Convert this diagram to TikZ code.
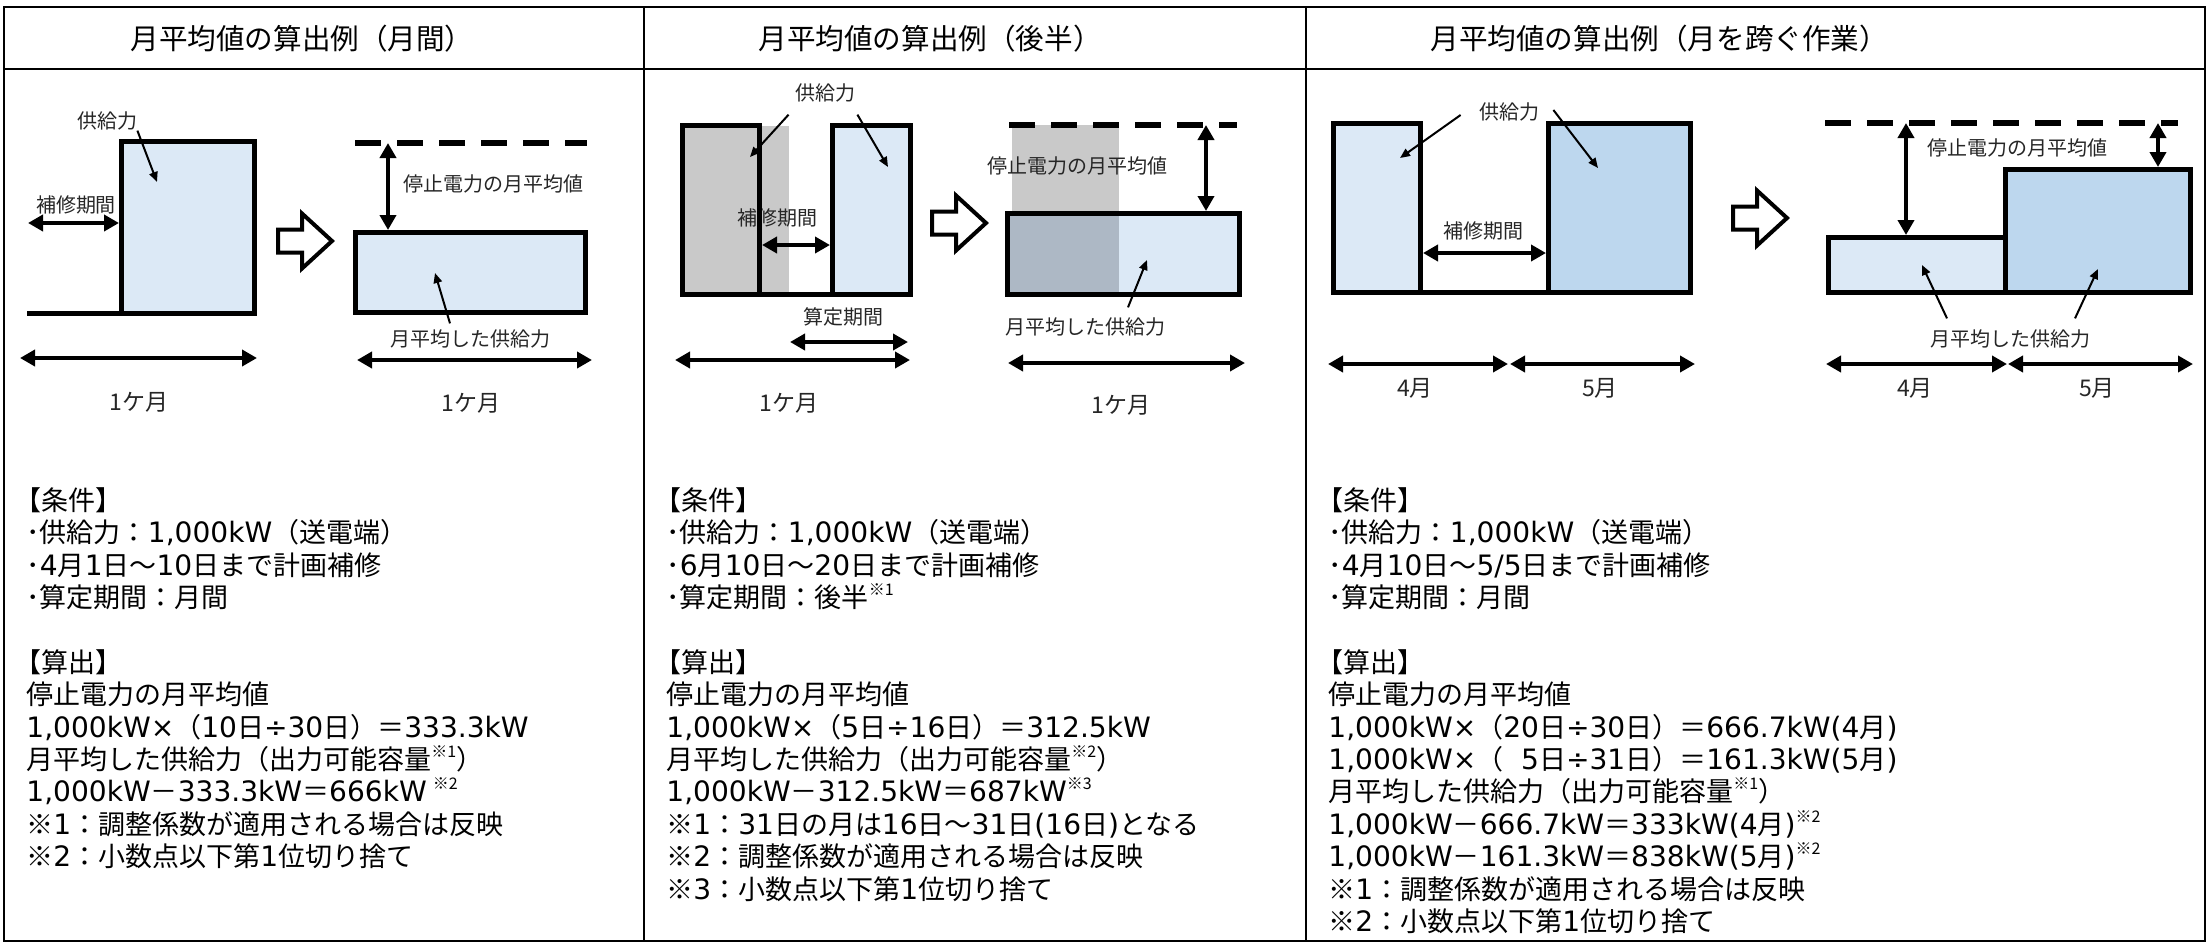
\documentclass[tikz,border=0pt]{standalone}
\usepackage{fontspec}
\setmainfont{Noto Sans CJK JP}
\newfontfamily\latf{DejaVu Sans}[Scale=1.04]
\usetikzlibrary{arrows.meta}
\definecolor{clb}{HTML}{DCE9F6}
\definecolor{cmb}{HTML}{BDD7EE}
\definecolor{cgr}{HTML}{C9C9C9}
\definecolor{cgb}{HTML}{ADB8C5}
\newcommand\sups[1]{\raisebox{0.45em}{\fontsize{8}{8}\selectfont #1}}
\newcommand\bopen{\hspace*{-0.45em}}
\newcommand\ltn[1]{{\latf #1}}
\begin{document}
\begin{tikzpicture}[x=0.5pt,y=-0.5pt,
  frame/.style={line width=1.2pt},
  bar/.style={draw=black, line width=2.6pt},
  dim/.style={line width=2pt, {Triangle[length=7.5pt,width=8pt]}-{Triangle[length=7.5pt,width=8pt]}},
  ptr/.style={line width=1pt, -{Triangle[length=5pt,width=4.2pt]}},
  lbl/.style={font=\fontsize{10}{12}\selectfont, text=black!85, inner sep=0pt},
  mon/.style={font=\fontsize{11.5}{13}\selectfont, text=black!85, inner sep=0pt},
  ttl/.style={font=\fontsize{14.3}{17}\selectfont, inner sep=0pt, anchor=west},
  body/.style={font=\fontsize{13.5}{16}\selectfont, inner sep=0pt, anchor=base west},
  dashline/.style={line width=2.6pt, dash pattern=on 13pt off 8pt},
  hollow/.style={draw=black, fill=white, line width=2pt, line join=miter},
  hollowarrow/.pic={\draw[hollow] (0,-11.5) -- (24,-11.5) -- (24,-27.5) -- (54,0) -- (24,27.5) -- (24,11.5) -- (0,11.5) -- cycle;}
]
\useasboundingbox (0,0) rectangle (2208,944);
% frame
\draw[frame] (4,7) rectangle (2205,941);
\draw[frame] (4,69) -- (2205,69);
\draw[frame] (644,7) -- (644,941);
\draw[frame] (1306,7) -- (1306,941);
% titles
\node[ttl] (T1) at (130,39) {月平均値の算出例（月間）};
\node[ttl] (T2) at (758,39) {月平均値の算出例（後半）};
\node[ttl] (T3) at (1430,39) {月平均値の算出例（月を跨ぐ作業）};

% ---------- panel 1 ----------
\draw[bar, fill=clb] (121.5,141.5) rectangle (254.5,313.5);
\draw[bar] (27,313.5) -- (121.5,313.5);
\node[lbl] (s1) at (107,121) {供給力};
\coordinate (s1t) at (157,182);
\draw[ptr] (s1.south east) -- (s1t);
\node[lbl] (r1) at (76,205) {補修期間};
\coordinate (r1a) at (28,223); \coordinate (r1b) at (119,223);
\draw[dim] (r1a) -- (r1b);
\pic at (278,241) {hollowarrow};
\draw[dashline] (355,143) -- (587,143);
\draw[bar, fill=clb] (355.5,232.5) rectangle (585.5,312.5);
\coordinate (v1a) at (388,143); \coordinate (v1b) at (388,230);
\draw[dim] (v1a) -- (v1b);
\node[lbl] (st1) at (493,184) {停止電力の月平均値};
\node[lbl] (m1) at (470,339) {月平均した供給力};
\coordinate (m1t) at (435,273);
\draw[ptr] ([xshift=-10pt,yshift=3pt]m1.north) -- (m1t);
\coordinate (b1a) at (20,358); \coordinate (b1b) at (257,358);
\draw[dim] (b1a) -- (b1b);
\coordinate (b1c) at (357,360); \coordinate (b1d) at (592,360);
\draw[dim] (b1c) -- (b1d);
\node[mon] (n1a) at (139,402) {1ケ月};
\node[mon] (n1b) at (471,403) {1ケ月};

% ---------- panel 2 ----------
\fill[cgr] (682.5,125.5) rectangle (789,294.5);
\node[lbl] (r2) at (777,218) {補修期間};
\draw[bar] (682.5,125.5) rectangle (759.5,294.5);
\draw[bar, fill=clb] (832.5,125.5) rectangle (910.5,294.5);
\draw[bar] (759.5,294.5) -- (832.5,294.5);
\node[lbl] (s2) at (825,93) {供給力};
\coordinate (s2l) at (750,157); \coordinate (s2r) at (888,167);
\draw[ptr] ([xshift=-3pt,yshift=-6pt]s2.south west) -- (s2l);
\draw[ptr] ([xshift=1pt,yshift=-6pt]s2.south east) -- (s2r);
\coordinate (r2a) at (762,245); \coordinate (r2b) at (830,245);
\draw[dim] (r2a) -- (r2b);
\node[lbl] (c2) at (843,317) {算定期間};
\coordinate (c2a) at (790,342); \coordinate (c2b) at (908,342);
\draw[dim] (c2a) -- (c2b);
\coordinate (b2a) at (675,360); \coordinate (b2b) at (910,360);
\draw[dim] (b2a) -- (b2b);
\node[mon] (n2a) at (789,403) {1ケ月};
\pic at (932,223) {hollowarrow};
\fill[cgr] (1012,125) rectangle (1119,213.5);
\fill[clb] (1007.5,213.5) rectangle (1239.5,294.5);
\fill[cgb] (1007.5,213.5) rectangle (1119,294.5);
\draw[bar] (1007.5,213.5) rectangle (1239.5,294.5);
\draw[dashline] (1009,125) -- (1237,125);
\coordinate (v2a) at (1206,125); \coordinate (v2b) at (1206,211);
\draw[dim] (v2a) -- (v2b);
\node[lbl] (st2) at (1077,166) {停止電力の月平均値};
\node[lbl] (m2) at (1085,327) {月平均した供給力};
\coordinate (m2t) at (1147,260);
\draw[ptr] ([xshift=21.5pt,yshift=5pt]m2.north) -- (m2t);
\coordinate (b2c) at (1008,363); \coordinate (b2d) at (1245,363);
\draw[dim] (b2c) -- (b2d);
\node[mon] (n2b) at (1121,405) {1ケ月};

% ---------- panel 3 ----------
\draw[bar, fill=clb] (1333.5,123.5) rectangle (1420.5,292.5);
\draw[bar, fill=cmb] (1548.5,123.5) rectangle (1690.5,292.5);
\draw[bar] (1420.5,292.5) -- (1548.5,292.5);
\node[lbl] (s3) at (1509,112) {供給力};
\coordinate (s3l) at (1400,158); \coordinate (s3r) at (1598,168);
\draw[ptr] ([xshift=-9pt,yshift=-1.5pt]s3.west) -- (s3l);
\draw[ptr] ([xshift=7pt,yshift=1pt]s3.east) -- (s3r);
\node[lbl] (r3) at (1483,231) {補修期間};
\coordinate (r3a) at (1423,253); \coordinate (r3b) at (1546,253);
\draw[dim] (r3a) -- (r3b);
\coordinate (b3a) at (1328,364); \coordinate (b3b) at (1508,364);
\draw[dim] (b3a) -- (b3b);
\coordinate (b3c) at (1510,364); \coordinate (b3d) at (1695,364);
\draw[dim] (b3c) -- (b3d);
\node[mon] (n3a) at (1415,388) {4月};
\node[mon] (n3b) at (1600,388) {5月};
\pic at (1733,218) {hollowarrow};
\draw[dashline] (1825,123) -- (2178,123);
\draw[bar, fill=clb] (1828.5,237.5) rectangle (2005.5,292.5);
\draw[bar, fill=cmb] (2005.5,169.5) rectangle (2190.5,292.5);
\coordinate (v3a) at (1906,123); \coordinate (v3b) at (1906,235);
\draw[dim] (v3a) -- (v3b);
\coordinate (v3c) at (2158,123); \coordinate (v3d) at (2158,167);
\draw[dim] (v3c) -- (v3d);
\node[lbl] (st3) at (2017,148) {停止電力の月平均値};
\node[lbl] (m3) at (2010,339) {月平均した供給力};
\coordinate (m3l) at (1922,265); \coordinate (m3r) at (2098,269);
\draw[ptr] ([xshift=-31.5pt,yshift=5.5pt]m3.north) -- (m3l);
\draw[ptr] ([xshift=32.5pt,yshift=5.5pt]m3.north) -- (m3r);
\coordinate (b3e) at (1826,364); \coordinate (b3f) at (2007,364);
\draw[dim] (b3e) -- (b3f);
\coordinate (b3g) at (2008,364); \coordinate (b3h) at (2193,364);
\draw[dim] (b3g) -- (b3h);
\node[mon] (n3c) at (1915,388) {4月};
\node[mon] (n3d) at (2097,388) {5月};

% ---------- body texts ----------
\foreach \t [count=\i] in {
  {\bopen【条件】},
  {･供給力：\ltn{1,000kW}（送電端）},
  {･\ltn{4}月\ltn{1}日～\ltn{10}日まで計画補修},
  {･算定期間：月間},
  {},
  {\bopen【算出】},
  {停止電力の月平均値},
  {\ltn{1,000kW×}（\ltn{10}日\ltn{÷}\ltn{30}日）＝\ltn{333.3kW}},
  {月平均した供給力（出力可能容量\sups{※1}）},
  {\ltn{1,000kW}－\ltn{333.3kW}＝\ltn{666kW} \sups{※2}},
  {※\ltn{1}：調整係数が適用される場合は反映},
  {※\ltn{2}：小数点以下第\ltn{1}位切り捨て}}
  \node[body] (pa\i) at (26,{510.3+32.4*(\i-1)}) {\t};
\foreach \t [count=\i] in {
  {\bopen【条件】},
  {･供給力：\ltn{1,000kW}（送電端）},
  {･\ltn{6}月\ltn{10}日～\ltn{20}日まで計画補修},
  {･算定期間：後半\sups{※1}},
  {},
  {\bopen【算出】},
  {停止電力の月平均値},
  {\ltn{1,000kW×}（\ltn{5}日\ltn{÷}\ltn{16}日）＝\ltn{312.5kW}},
  {月平均した供給力（出力可能容量\sups{※2}）},
  {\ltn{1,000kW}－\ltn{312.5kW}＝\ltn{687kW}\sups{※3}},
  {※\ltn{1}：\ltn{31}日の月は\ltn{16}日～\ltn{31}日\ltn{(16}日\ltn{)}となる},
  {※\ltn{2}：調整係数が適用される場合は反映},
  {※\ltn{3}：小数点以下第\ltn{1}位切り捨て}}
  \node[body] (pb\i) at (666,{510.3+32.4*(\i-1)}) {\t};
\foreach \t [count=\i] in {
  {\bopen【条件】},
  {･供給力：\ltn{1,000kW}（送電端）},
  {･\ltn{4}月\ltn{10}日～\ltn{5/5}日まで計画補修},
  {･算定期間：月間},
  {},
  {\bopen【算出】},
  {停止電力の月平均値},
  {\ltn{1,000kW×}（\ltn{20}日\ltn{÷}\ltn{30}日）＝\ltn{666.7kW(4}月\ltn{)}},
  {\ltn{1,000kW×}（\ltn{\hphantom{2}5}日\ltn{÷}\ltn{31}日）＝\ltn{161.3kW(5}月\ltn{)}},
  {月平均した供給力（出力可能容量\sups{※1}）},
  {\ltn{1,000kW}－\ltn{666.7kW}＝\ltn{333kW(4}月\ltn{)}\sups{※2}},
  {\ltn{1,000kW}－\ltn{161.3kW}＝\ltn{838kW(5}月\ltn{)}\sups{※2}},
  {※\ltn{1}：調整係数が適用される場合は反映},
  {※\ltn{2}：小数点以下第\ltn{1}位切り捨て}}
  \node[body] (pc\i) at (1328,{510.3+32.4*(\i-1)}) {\t};
\end{tikzpicture}
\end{document}
